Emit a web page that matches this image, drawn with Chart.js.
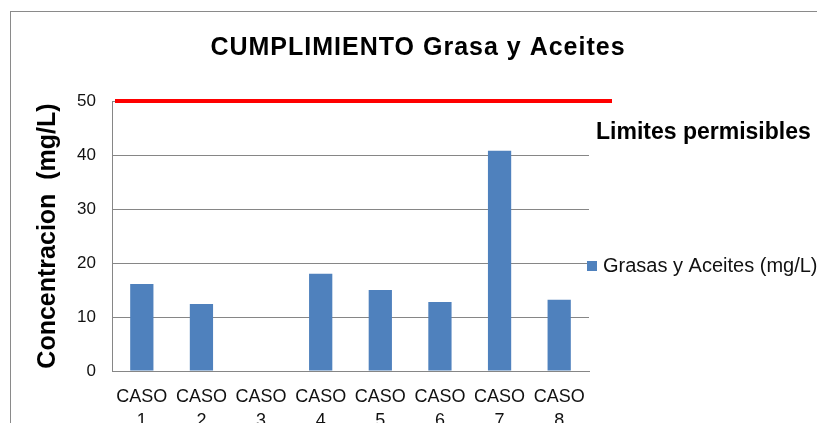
<!DOCTYPE html>
<html>
<head>
<meta charset="utf-8">
<script src="https://cdn.jsdelivr.net/npm/chart.js@4"></script>
<style>
  body { margin: 0; background: #fff; }
  #wrap { position: relative; width: 817px; height: 423px; overflow: hidden; }
  #frame { position: absolute; left: 10px; top: 11px; width: 900px; height: 500px;
           border-left: 1px solid #8a8a8a; border-top: 1px solid #8a8a8a; }
  canvas { position: absolute; left: 0; top: 0; }
</style>
</head>
<body>
<div id="wrap">
  <div id="frame"></div>
  <canvas id="chartContainer" width="817" height="423"></canvas>
</div>
<script>
var casos = [['CASO', '1'], ['CASO', '2'], ['CASO', '3'], ['CASO', '4'],
             ['CASO', '5'], ['CASO', '6'], ['CASO', '7'], ['CASO', '8']];
var grasas = [16.1, 12.4, 0, 18, 15, 12.8, 40.8, 13.2];
var limite = 50;
var yTicks = [0, 10, 20, 30, 40, 50];

var FONT = '"Liberation Sans", Arial, sans-serif';

// title, limit line and the legend on the right
var extras = {
    id: 'extras',
    afterDatasetsDraw: function (chart) {
        var ctx = chart.ctx;
        var area = chart.chartArea;
        var y = chart.scales.y.getPixelForValue(limite);
        ctx.save();
        ctx.strokeStyle = '#ff0000';
        ctx.lineWidth = 4;
        ctx.beginPath();
        ctx.moveTo(area.left + 3, y);
        ctx.lineTo(area.right + 23, y);
        ctx.stroke();

        ctx.fillStyle = '#000';
        ctx.textBaseline = 'alphabetic';
        ctx.textAlign = 'center';
        ctx.font = 'bold 25px ' + FONT;
        ctx.letterSpacing = '1px';
        ctx.fillText('CUMPLIMIENTO Grasa y Aceites', 418, 55);
        ctx.letterSpacing = '0px';

        ctx.textAlign = 'left';
        ctx.font = 'bold 23px ' + FONT;
        ctx.fillText('Limites permisibles', 596, 139);

        ctx.fillStyle = '#4f81bd';
        ctx.fillRect(587, 261, 10, 10);
        ctx.fillStyle = '#111';
        ctx.font = '20px ' + FONT;
        ctx.fillText('Grasas y Aceites (mg/L)', 603, 272);
        ctx.restore();
    }
};

var ctx = document.getElementById('chartContainer').getContext('2d');
window.myBarChart = new Chart(ctx, {
    type: 'bar',
    data: {
        labels: casos,
        datasets: [{
            label: 'Grasas y Aceites (mg/L)',
            data: grasas,
            backgroundColor: '#4f81bd',
            barPercentage: 0.39,
            categoryPercentage: 1
        }]
    },
    options: {
        responsive: false,
        animation: false,
        layout: { padding: { left: 10, right: 228, top: 101, bottom: 0 } },
        plugins: {
            legend: { display: false },
            title: { display: false },
            tooltip: { enabled: false }
        },
        scales: {
            x: {
                grid: { display: false },
                border: { color: '#868686', width: 1 },
                ticks: {
                    color: '#111',
                    font: { family: FONT, size: 18, lineHeight: 1.28 },
                    padding: 7,
                    maxRotation: 0,
                    autoSkip: false
                },
                afterFit: function (scale) { scale.height = 52; }
            },
            y: {
                min: 0,
                max: 50,
                afterBuildTicks: function (scale) {
                    scale.ticks = yTicks.map(function (v) { return { value: v }; });
                },
                grid: { color: '#868686', drawTicks: false },
                border: { color: '#868686', width: 1 },
                ticks: {
                    color: '#111',
                    font: { family: FONT, size: 17 },
                    padding: 16
                },
                title: {
                    display: true,
                    text: 'Concentracion  (mg/L)',
                    color: '#000',
                    font: { family: FONT, size: 25, weight: 'bold' },
                    padding: { top: 23, bottom: 0 }
                },
                afterFit: function (scale) { scale.width = 102; }
            }
        }
    },
    plugins: [extras]
});
</script>
</body>
</html>
